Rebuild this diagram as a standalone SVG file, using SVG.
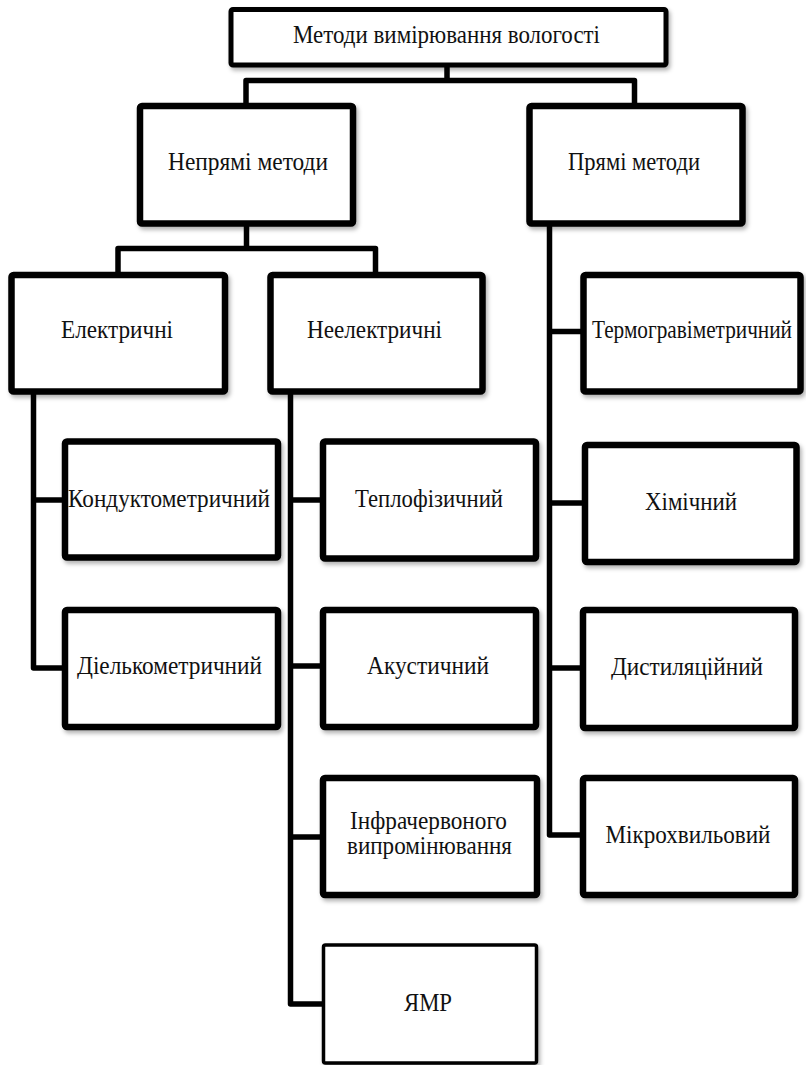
<svg xmlns="http://www.w3.org/2000/svg" width="806" height="1065" viewBox="0 0 806 1065">
<style>
.box{fill:#fff;stroke:#000;stroke-width:6.5;filter:url(#sh)}
.thin{stroke-width:3.5}
.top{stroke-width:5}
.conn{fill:none;stroke:#000;stroke-width:5.5;stroke-linejoin:round}
.lbl{font-family:'Liberation Serif','Times New Roman',Tinos,'DejaVu Serif',serif;font-size:25px;fill:#111;text-anchor:middle}
</style>
<defs>
<filter id="sh" x="-10%" y="-10%" width="130%" height="130%">
<feDropShadow dx="2" dy="3" stdDeviation="2" flood-color="#000" flood-opacity="0.3"/>
</filter>
</defs>
<rect width="806" height="1065" fill="#fff"/>
<g id="connectors">
<path class="conn" d="M447,66 V80.5 M246,103 V80.5 H634.5 V103"/>
<path class="conn" d="M246.5,222 V248.5 M118,272 V248.5 H375.5 V272"/>
<path class="conn" d="M33.5,390 V668 H66 M33.5,500 H66"/>
<path class="conn" d="M290.5,390 V1004 H324 M290.5,500 H324 M290.5,666 H324 M290.5,837 H324"/>
<path class="conn" d="M549.5,222 V835 H584 M549.5,331.5 H584 M549.5,503 H586 M549.5,668 H584"/>
</g>
<g id="root">
<rect class="box top" x="231" y="9.5" width="435" height="55.5" rx="2"/>
<text class="lbl" x="446.5" y="43" font-size="23" textLength="307" lengthAdjust="spacingAndGlyphs">Методи вимірювання вологості</text>
</g>
<g id="indirect">
<rect class="box" x="140" y="106" width="213" height="117.5" rx="2"/>
<text class="lbl" x="248" y="170" textLength="160" lengthAdjust="spacingAndGlyphs">Непрямі методи</text>
</g>
<g id="direct">
<rect class="box" x="529.5" y="106" width="213" height="117.5" rx="2"/>
<text class="lbl" x="634" y="170" textLength="132" lengthAdjust="spacingAndGlyphs">Прямі методи</text>
</g>
<g id="electric">
<rect class="box" x="11.5" y="275" width="213.5" height="116.5" rx="2"/>
<text class="lbl" x="117" y="338" textLength="112" lengthAdjust="spacingAndGlyphs">Електричні</text>
</g>
<g id="nonelectric">
<rect class="box" x="270.5" y="275" width="212" height="116.5" rx="2"/>
<text class="lbl" x="374.5" y="338" textLength="135" lengthAdjust="spacingAndGlyphs">Неелектричні</text>
</g>
<g id="conductometric">
<rect class="box" x="65" y="441.5" width="213" height="116" rx="2"/>
<text class="lbl" x="169" y="507" textLength="202" lengthAdjust="spacingAndGlyphs">Кондуктометричний</text>
</g>
<g id="dielcometric">
<rect class="box" x="65" y="610" width="213" height="117" rx="2"/>
<text class="lbl" x="169.5" y="674" textLength="185" lengthAdjust="spacingAndGlyphs">Діелькометричний</text>
</g>
<g id="thermophysical">
<rect class="box" x="323" y="441.5" width="213" height="117" rx="2"/>
<text class="lbl" x="429" y="507" textLength="148" lengthAdjust="spacingAndGlyphs">Теплофізичний</text>
</g>
<g id="acoustic">
<rect class="box" x="323" y="610" width="213" height="117" rx="2"/>
<text class="lbl" x="428" y="674" textLength="122" lengthAdjust="spacingAndGlyphs">Акустичний</text>
</g>
<g id="infrared">
<rect class="box" x="323" y="778" width="214" height="117" rx="2"/>
<text class="lbl" x="428.5" y="829" textLength="157" lengthAdjust="spacingAndGlyphs">Інфрачервоного</text>
<text class="lbl" x="429.5" y="854" textLength="165" lengthAdjust="spacingAndGlyphs">випромінювання</text>
</g>
<g id="nmr">
<rect class="box thin" x="323.5" y="945" width="213" height="118" rx="2"/>
<text class="lbl" x="428" y="1011" textLength="48" lengthAdjust="spacingAndGlyphs">ЯМР</text>
</g>
<g id="thermogravimetric">
<rect class="box" x="583.5" y="275" width="217" height="116.5" rx="2"/>
<text class="lbl" x="692" y="338" font-size="20" textLength="200" lengthAdjust="spacingAndGlyphs">Термогравіметричний</text>
</g>
<g id="chemical">
<rect class="box" x="585" y="445" width="211.5" height="117" rx="2"/>
<text class="lbl" x="691" y="510" textLength="92" lengthAdjust="spacingAndGlyphs">Хімічний</text>
</g>
<g id="distillation">
<rect class="box" x="583" y="610" width="212" height="118" rx="2"/>
<text class="lbl" x="687" y="675" textLength="152" lengthAdjust="spacingAndGlyphs">Дистиляційний</text>
</g>
<g id="microwave">
<rect class="box" x="583" y="778" width="212" height="117" rx="2"/>
<text class="lbl" x="688" y="843" textLength="165" lengthAdjust="spacingAndGlyphs">Мікрохвильовий</text>
</g>
</svg>
